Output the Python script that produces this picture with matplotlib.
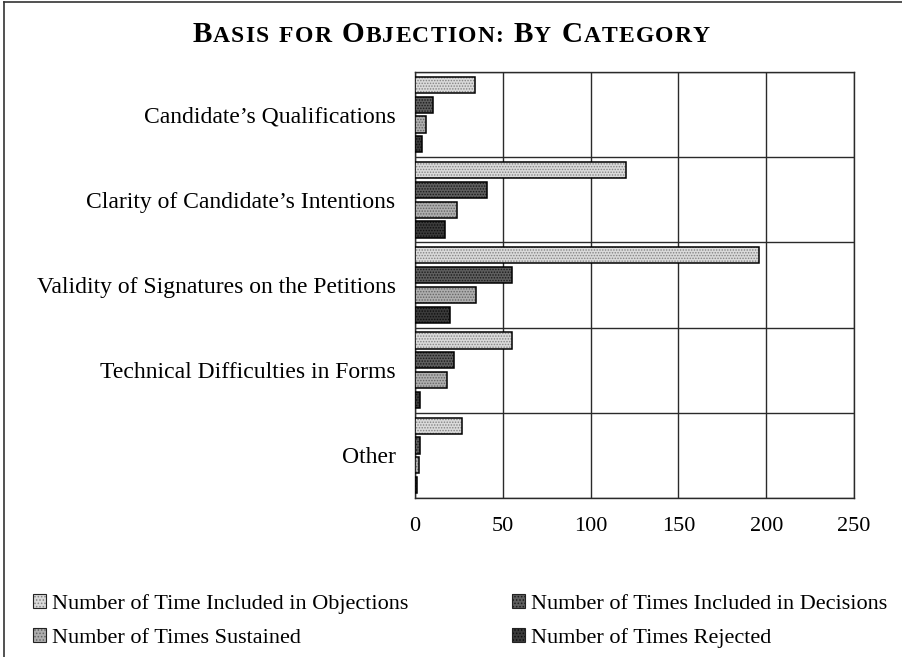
import numpy as np
import matplotlib
matplotlib.use("Agg")
import matplotlib.pyplot as plt
from matplotlib.patches import Patch
from matplotlib.lines import Line2D

categories = ["Candidate\u2019s Qualifications",
              "Clarity of Candidate\u2019s Intentions",
              "Validity of Signatures on the Petitions",
              "Technical Difficulties in Forms",
              "Other"]
objections = [34, 120, 196, 55, 27]
decisions = [10, 41, 55, 22, 3]
sustained = [6, 24, 35, 18, 2]
rejected = [4, 17, 20, 3, 1]
series_names = ["Number of Time Included in Objections",
                "Number of Times Included in Decisions",
                "Number of Times Sustained",
                "Number of Times Rejected"]
xticks = [0, 50, 100, 150, 200, 250]

plt.rcParams['font.family'] = 'Liberation Serif'
plt.rcParams['hatch.linewidth'] = 0.7

W, H = 902, 657
fig = plt.figure(figsize=(W / 100, H / 100), dpi=100)
ax = fig.add_axes([415 / W, 1 - 498 / H, (854 - 415) / W, (498 - 72) / H])

faces = ['#dadada', '#5e5e5e', '#aeaeae', '#3a3a3a']
hcols = ['#838383', '#1a1a1a', '#656565', '#0e0e0e']
offsets = [-0.348, -0.116, 0.116, 0.348]
y = np.arange(len(categories))
handles = []
for vals, fc, hc, off in zip([objections, decisions, sustained, rejected], faces, hcols, offsets):
    ax.barh(y + off, vals, height=0.19, color=fc, edgecolor=hc, hatch='......', linewidth=0, zorder=3)
    ax.barh(y + off, vals, height=0.19, fill=False, edgecolor='black', linewidth=1.1, zorder=4)
    handles.append((Patch(facecolor=fc, edgecolor=hc, hatch='.....', linewidth=0),
                    Patch(fill=False, edgecolor='#222222', linewidth=0.8)))

ax.set_xlim(0, 250)
ax.set_ylim(len(categories) - 0.5, -0.5)
ax.set_xticks(xticks)
ax.set_yticks(y)
ax.set_yticklabels(categories, fontsize=17)
ax.set_yticks(np.arange(-0.5, len(categories), 1), minor=True)
ax.tick_params(axis='x', labelsize=16, length=0, pad=14)
ax.tick_params(axis='y', which='both', length=0, pad=14)
ax.grid(axis='x', color='#2a2a2a', linewidth=1.0, zorder=0)
ax.grid(axis='y', which='minor', color='#2a2a2a', linewidth=1.0, zorder=0)
ax.grid(axis='y', which='major', visible=False)
for s in ax.spines.values():
    s.set_color('#2a2a2a')
    s.set_linewidth(1.0)

# legend: two columns placed by hand
kw = dict(frameon=False, fontsize=16, handlelength=0.6, handleheight=0.6,
          handletextpad=0.25, labelspacing=0.62, borderpad=0, borderaxespad=0,
          loc='upper left')
fig.legend([handles[0], handles[2]], [series_names[0], series_names[2]],
           bbox_to_anchor=(33 / W, 1 - 594 / H), **kw)
fig.legend([handles[1], handles[3]], [series_names[1], series_names[3]],
           bbox_to_anchor=(512 / W, 1 - 594 / H), **kw)

# title in small caps, letter by letter
parts = [("B", True), ("ASIS", False), (" ", None), ("FOR", False), (" ", None),
         ("O", True), ("BJECTION:", False), (" ", None), ("B", True), ("Y", False),
         (" ", None), ("C", True), ("ATEGORY", False)]
big, small, track, gap = 21, 17, 1.2, 9
r = fig.canvas.get_renderer()
items = []
for s, isbig in parts:
    if isbig is None:
        items.append((None, gap))
        continue
    for ch in s:
        t = fig.text(0, 1 - 42 / H, ch, fontsize=big if isbig else small,
                     fontweight='bold', ha='left', va='baseline')
        items.append((t, t.get_window_extent(r).width + track))
total = sum(w for _, w in items) - track
x = (W - total) / 2
for t, w in items:
    if t is not None:
        t.set_x(x / W)
    x += w

# border of the page box
fig.add_artist(Line2D([4 / W, 4 / W], [0, 1 - 2 / H], color='#333333', lw=1.2))
fig.add_artist(Line2D([4 / W, 1], [1 - 2 / H, 1 - 2 / H], color='#333333', lw=1.2))

fig.savefig("out.png", dpi=100)
